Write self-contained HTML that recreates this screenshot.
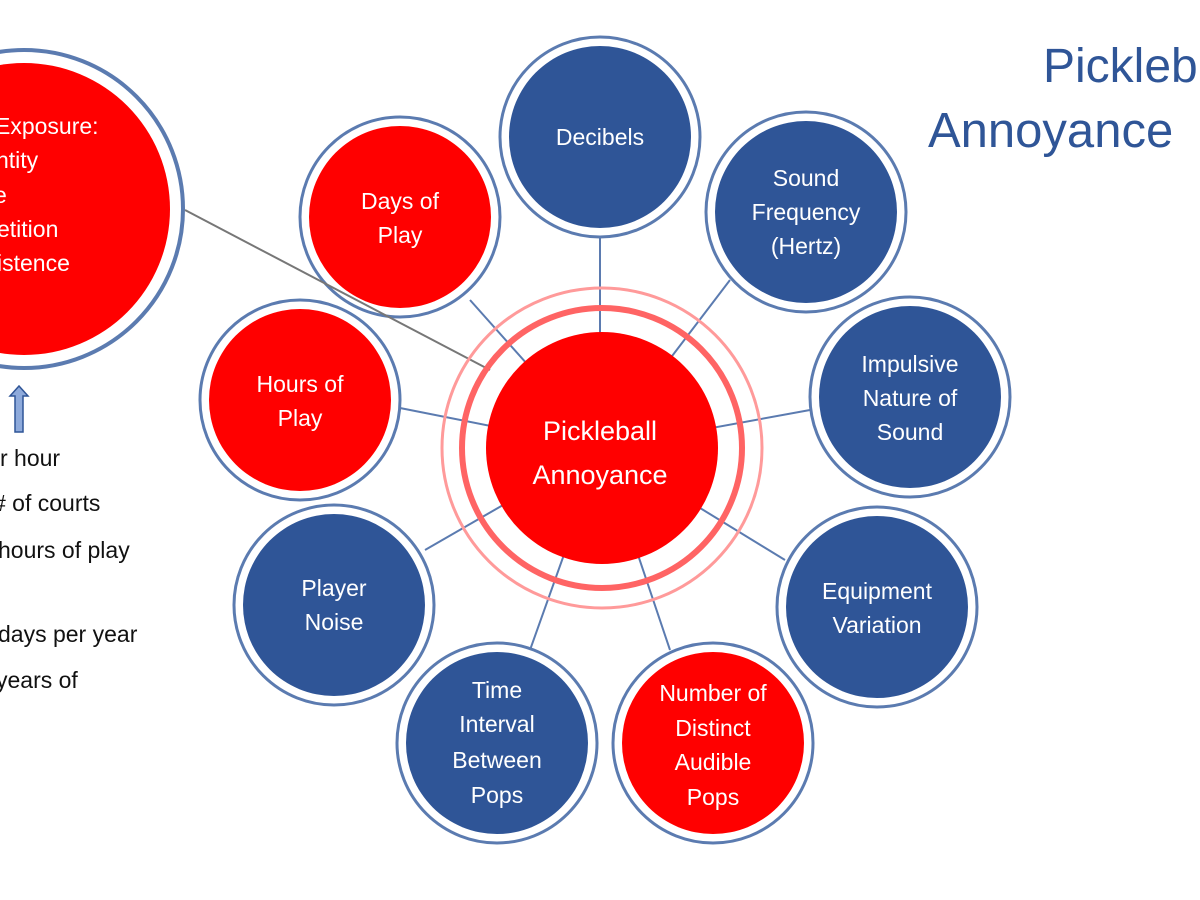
<!DOCTYPE html>
<html><head><style>
html,body{margin:0;padding:0;background:#fff;width:1200px;height:900px;overflow:hidden}
svg text{font-family:"Liberation Sans",sans-serif}
.w{fill:#fff;font-size:23px;text-anchor:middle}
.l{fill:#fff;font-size:23px}
.k{fill:#111;font-size:23px}
</style></head><body>
<svg width="1200" height="900" viewBox="0 0 1200 900" xmlns="http://www.w3.org/2000/svg">
<g stroke="#5b7bb0" stroke-width="2">
<line x1="600" y1="237" x2="600" y2="448"/>
<line x1="730" y1="280" x2="602" y2="448"/>
<line x1="810" y1="410" x2="602" y2="448"/>
<line x1="785" y1="560" x2="602" y2="448"/>
<line x1="670" y1="650" x2="602" y2="448"/>
<line x1="530" y1="650" x2="602" y2="448"/>
<line x1="425" y1="550" x2="602" y2="448"/>
<line x1="400" y1="408" x2="602" y2="448"/>
<line x1="470" y1="300" x2="602" y2="448"/>
</g>
<circle cx="24" cy="209" r="159" fill="#fff" stroke="#5b7bb0" stroke-width="4"/>
<circle cx="24" cy="209" r="146" fill="#ff0000"/>
<g fill="#fff">
<circle cx="600" cy="137" r="100" stroke="#5b7bb0" stroke-width="3"/>
<circle cx="806" cy="212" r="100" stroke="#5b7bb0" stroke-width="3"/>
<circle cx="910" cy="397" r="100" stroke="#5b7bb0" stroke-width="3"/>
<circle cx="877" cy="607" r="100" stroke="#5b7bb0" stroke-width="3"/>
<circle cx="713" cy="743" r="100" stroke="#5b7bb0" stroke-width="3"/>
<circle cx="497" cy="743" r="100" stroke="#5b7bb0" stroke-width="3"/>
<circle cx="334" cy="605" r="100" stroke="#5b7bb0" stroke-width="3"/>
<circle cx="300" cy="400" r="100" stroke="#5b7bb0" stroke-width="3"/>
<circle cx="400" cy="217" r="100" stroke="#5b7bb0" stroke-width="3"/>
</g>
<circle cx="600" cy="137" r="91" fill="#2f5597"/>
<circle cx="806" cy="212" r="91" fill="#2f5597"/>
<circle cx="910" cy="397" r="91" fill="#2f5597"/>
<circle cx="877" cy="607" r="91" fill="#2f5597"/>
<circle cx="713" cy="743" r="91" fill="#ff0000"/>
<circle cx="497" cy="743" r="91" fill="#2f5597"/>
<circle cx="334" cy="605" r="91" fill="#2f5597"/>
<circle cx="300" cy="400" r="91" fill="#ff0000"/>
<circle cx="400" cy="217" r="91" fill="#ff0000"/>
<line x1="185" y1="210" x2="490" y2="370" stroke="#777" stroke-width="2"/>
<circle cx="602" cy="448" r="160" fill="none" stroke="#ff9a9a" stroke-width="3"/>
<circle cx="602" cy="448" r="140" fill="none" stroke="#ff6464" stroke-width="6"/>
<circle cx="602" cy="448" r="116" fill="#ff0000"/>
<text class="w" x="600" y="440" style="font-size:27px">Pickleball</text>
<text class="w" x="600" y="484" style="font-size:27px">Annoyance</text>
<text class="l" x="-5" y="134">Exposure:</text>
<text class="l" x="-4" y="168">ntity</text>
<text class="l" x="-6" y="203">e</text>
<text class="l" x="-3" y="237">etition</text>
<text class="l" x="-3" y="271">istence</text>
<text class="w" x="600" y="145">Decibels</text>
<text class="w" x="806" y="186">Sound</text>
<text class="w" x="806" y="220">Frequency</text>
<text class="w" x="806" y="254">(Hertz)</text>
<text class="w" x="910" y="372">Impulsive</text>
<text class="w" x="910" y="406">Nature of</text>
<text class="w" x="910" y="440">Sound</text>
<text class="w" x="877" y="599">Equipment</text>
<text class="w" x="877" y="633">Variation</text>
<text class="w" x="713" y="701">Number of</text>
<text class="w" x="713" y="736">Distinct</text>
<text class="w" x="713" y="770">Audible</text>
<text class="w" x="713" y="805">Pops</text>
<text class="w" x="497" y="698">Time</text>
<text class="w" x="497" y="732">Interval</text>
<text class="w" x="497" y="768">Between</text>
<text class="w" x="497" y="803">Pops</text>
<text class="w" x="334" y="596">Player</text>
<text class="w" x="334" y="630">Noise</text>
<text class="w" x="300" y="392">Hours of</text>
<text class="w" x="300" y="426">Play</text>
<text class="w" x="400" y="209">Days of</text>
<text class="w" x="400" y="243">Play</text>
<path d="M19 386 L28 396 L23 396 L23 432 L15 432 L15 396 L10 396Z" fill="#8eaadb" stroke="#2f5597" stroke-width="1.5"/>
<text class="k" x="0" y="466">r hour</text>
<text class="k" x="-7" y="511"># of courts</text>
<text class="k" x="-2" y="558">hours of play</text>
<text class="k" x="-2" y="642">days per year</text>
<text class="k" x="-4" y="688">years of</text>
<text x="1043" y="82" fill="#2f5597" style="font-size:48px">Pickleb</text>
<text x="928" y="147" fill="#2f5597" style="font-size:49px">Annoyance</text>
</svg>
</body></html>
